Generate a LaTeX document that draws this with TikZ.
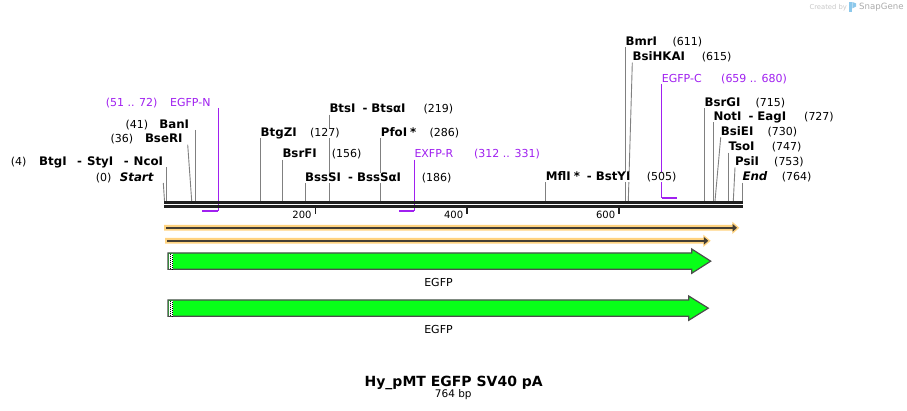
\documentclass[tikz,border=0pt]{standalone}
\usepackage{fontspec}
\setmainfont{DejaVu Sans}
\usepackage{xcolor}
\usetikzlibrary{arrows.meta,backgrounds}
\definecolor{primercol}{RGB}{160,32,240}
\definecolor{sitegray}{RGB}{128,128,128}
\definecolor{seqblack}{RGB}{32,32,32}
\definecolor{haloorange}{RGB}{255,211,128}
\definecolor{orfdark}{RGB}{68,62,52}
\definecolor{egfpgreen}{RGB}{8,255,24}
\definecolor{featoutline}{RGB}{77,77,77}
\definecolor{logoblue}{RGB}{140,200,235}
\newcommand{\enzsep}{\hspace{7pt}-\hspace{4pt}}
\tikzset{
    enzyme/.style={font=\bfseries\fontsize{11.8}{14}\selectfont, inner sep=0pt, text height=8.6pt, text depth=1.6pt, fill=white},
    sitenum/.style={font=\fontsize{11}{13}\selectfont, inner sep=0pt, text height=8.6pt, text depth=1.6pt, fill=white},
    primerlabel/.style={sitenum, text=primercol},
    siteline/.style={draw=sitegray, line width=0.9pt},
    primerline/.style={draw=primercol, line width=1.1pt},
    primerbar/.style={draw=primercol, line width=2.2pt},
    seqline/.style={draw=seqblack, line width=2.7pt},
    tickmark/.style={draw=seqblack, line width=1.6pt},
    ticklabel/.style={font=\fontsize{10}{12}\selectfont, inner sep=0pt},
    halo/.style={fill=haloorange},
    orfline/.style={draw=orfdark, line width=1.7pt, -{Triangle[length=4.5pt,width=7.5pt]}},
    featarrow/.style={fill=egfpgreen, draw=featoutline, line width=1.2pt},
    featlabel/.style={font=\fontsize{11}{13}\selectfont, inner sep=0pt},
}
\begin{document}
\begin{tikzpicture}[x=1pt,y=-1pt]
    \useasboundingbox (0,0) rectangle (907,411);

    % Sequence line
    \coordinate (seq-a) at (164,202.3);
    \coordinate (seq-b) at (742.7,202.3);
    \coordinate (seq-c) at (164,206.3);
    \coordinate (seq-d) at (742.7,206.3);
    \draw[seqline] (seq-a) -- (seq-b);
    \draw[seqline] (seq-c) -- (seq-d);

    % Ruler ticks
    \foreach \x/\lbl in {315.5/200, 467.2/400, 619.2/600} {
        \draw[tickmark] (\x,207.7) -- (\x,214.5);
        \node[ticklabel, anchor=base east] (tick-\lbl) at (\x-3.8,219) {\lbl};
    }

    % Sites labelled on the right
    \foreach \name/\txt/\x/\y/\nx/\num/\sx in {
        BmrI/BmrI/625.3/47.4/672.3/611/625.3,
        BsiHKAI/BsiHKAI/632.3/62.7/701.7/615/628.3,
        BsrGI/BsrGI/704.3/108/755.3/715/704.3,
        BtsI/{BtsI\enzsep BtsαI}/329.3/114.7/423.3/219/329.3,
        NotI/{NotI\enzsep EagI}/713.3/122.4/804/727/713.3,
        BtgZI/BtgZI/260.5/138/310/127/260.5,
        PfoI/{PfoI\hspace{3pt}*}/380.7/138/429.3/286/380.7,
        BsiEI/BsiEI/720.7/137.4/767.3/730/715,
        TsoI/TsoI/728.3/152.7/771.7/747/728.3,
        BsrFI/BsrFI/282.3/159.7/331.7/156/282.3,
        PsiI/PsiI/735/167.4/774/753/733.3,
        BssSI/{BssSI\enzsep BssSαI}/305/183/421.7/186/305,
        MflI/{MflI\hspace{3pt}*\enzsep BstYI}/545.7/182.4/646.7/505/545.7,
        End/\textit{End}/742.3/182.7/781.7/764/742.3
    }{
        \node[enzyme, anchor=south west] (\name) at (\x,\y) {\txt};
        \node[sitenum, anchor=south west] (\name-num) at (\nx,\y) {(\num)};
        \coordinate (\name-top) at (\name.south west);
        \coordinate (\name-site) at (\sx,201);
    }

    % Sites labelled on the left
    \foreach \name/\txt/\x/\y/\nx/\num/\off/\sx in {
        BanI/BanI/189.3/130/148.3/41/5.7/195,
        BseRI/BseRI/182.7/144.7/133.3/36/5/191.7,
        NcoI/{BtgI\hspace{10.5pt}-\hspace{5pt}StyI\hspace{10.5pt}-\hspace{5pt}NcoI}/163.3/167.4/26.7/4/3.4/166.7,
        Start/\textit{Start}/154/183/111.7/0/9.3/164.5
    }{
        \node[enzyme, anchor=south east] (\name) at (\x,\y) {\txt};
        \node[sitenum, anchor=south east] (\name-num) at (\nx,\y) {(\num)};
        \coordinate (\name-top) at ([xshift=\off pt]\name.south east);
        \coordinate (\name-site) at (\sx,201);
    }

    % Primers
    \node[primerlabel, anchor=south east] (EGFPN) at (210.7,108) {EGFP-N};
    \node[primerlabel, anchor=south east] (EGFPN-num) at (157.7,108) {(51 .. 72)};
    \coordinate (EGFPN-a) at (202,210.7);
    \coordinate (EGFPN-b) at (218.3,210.7);
    \node[primerlabel, anchor=south west] (EXFPR) at (414.3,159.7) {EXFP-R};
    \node[primerlabel, anchor=south west] (EXFPR-num) at (474,159.7) {(312 .. 331)};
    \coordinate (EXFPR-a) at (399,210.7);
    \coordinate (EXFPR-b) at (414.3,210.7);
    \node[primerlabel, anchor=south west] (EGFPC) at (661.7,84) {EGFP-C};
    \node[primerlabel, anchor=south west] (EGFPC-num) at (721,84) {(659 .. 680)};
    \coordinate (EGFPC-a) at (661.7,197.7);
    \coordinate (EGFPC-b) at (676.7,197.7);

    % Connectors behind the labels
    \begin{scope}[on background layer]
        \foreach \name in {BmrI,BsiHKAI,BsrGI,BtsI,NotI,BtgZI,PfoI,BsiEI,TsoI,BsrFI,PsiI,BssSI,MflI,End,BanI,BseRI,NcoI,Start} {
            \draw[siteline] (\name-top) -- (\name-site);
        }
        \draw[primerline] ([xshift=7.6pt]EGFPN.south east) -- (EGFPN-b);
        \draw[primerbar] (EGFPN-a) -- (EGFPN-b);
        \draw[primerline] (EXFPR.south west) -- (EXFPR-b);
        \draw[primerbar] (EXFPR-a) -- (EXFPR-b);
        \draw[primerline] (EGFPC.south west) -- (EGFPC-a);
        \draw[primerbar] (EGFPC-a) -- (EGFPC-b);
    \end{scope}

    % Open reading frames
    \fill[halo] (164,225) -- (732.3,225) -- (732.3,221.7) -- (739.3,227.8) -- (732.3,234) -- (732.3,230.7) -- (164,230.7) -- cycle;
    \draw[orfline] (166,227.8) -- (737,227.8);
    \fill[halo] (165,238) -- (703.3,238) -- (703.3,234.7) -- (710.7,240.8) -- (703.3,247) -- (703.3,243.7) -- (165,243.7) -- cycle;
    \draw[orfline] (167,240.8) -- (708.3,240.8);

    % Features
    \foreach \yt/\yb/\hx/\tx/\nm in {253/269.3/691.7/710.7/1, 300/316.3/688.7/708.3/2} {
        \draw[featarrow] (168,\yt) -- (\hx,\yt) -- (\hx,\yt-4) -- (\tx,{(\yt+\yb)/2}) -- (\hx,\yb+4) -- (\hx,\yb) -- (168,\yb) -- cycle;
        \fill[white] (168.6,\yt+0.6) rectangle (173,\yb-0.6);
        \draw[black, line width=1pt, dash pattern=on 1pt off 1pt] (170,\yt+0.6) -- (170,\yb-0.6);
        \draw[black, line width=1pt, dash pattern=on 1pt off 1pt] (172,\yt+1.6) -- (172,\yb-0.6);
        \node[featlabel, anchor=base] (egfp-\nm) at (438.5,\yb+17) {EGFP};
    }

    % Title
    \node[font=\bfseries\fontsize{14}{17}\selectfont, inner sep=0pt, anchor=base] (title) at (453.7,386) {Hy\_pMT EGFP SV40 pA};
    \node[font=\fontsize{10.5}{12}\selectfont, inner sep=0pt, anchor=base] (length) at (453.3,397.7) {764 bp};

    % Watermark
    \node[font=\fontsize{6.8}{8}\selectfont, text={rgb,255:red,200;green,200;blue,200}, inner sep=0pt, anchor=west] (created) at (809.3,7.3) {Created by};
    \fill[logoblue] (849,2) -- (851.6,2) -- (851.6,12) -- (849,12) -- cycle;
    \fill[logoblue] (852.4,2) -- (856,3.4) -- (856,6.6) -- (852.4,8.4) -- cycle;
    \node[font=\fontsize{8.6}{10}\selectfont, text={rgb,255:red,170;green,170;blue,170}, inner sep=0pt, anchor=west] (snapgene) at (859,7.3) {SnapGene};
\end{tikzpicture}
\end{document}
